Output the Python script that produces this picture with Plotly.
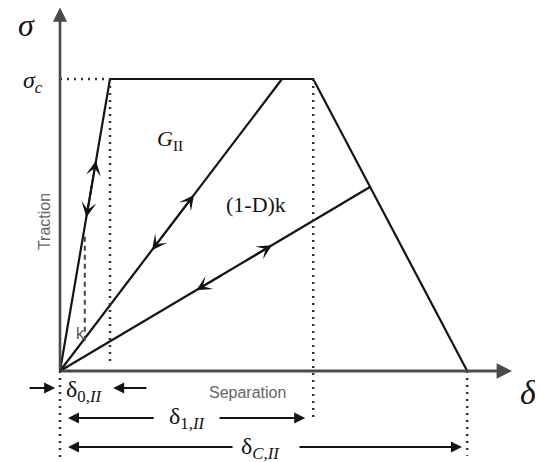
import plotly.graph_objects as go

# traction-separation law (x: separation units, y: traction / sigma_c)
env_x = [0, 1.25, 6.33, 10.18]
env_y = [0, 1.0, 1.0, 0]
mid_x = [0, 5.55]
mid_y = [0, 1.0]
low_x = [0, 7.75]
low_y = [0, 0.63]
k_dash_x = [0.62, 0.62]
k_dash_y = [0.46, 0.09]

# arrows along the loading/unloading paths: (tip_x, tip_y, tail_x, tail_y)
path_arrows = [
    (0.90, 0.72, 0.75, 0.60),
    (0.66, 0.527, 0.81, 0.647),
    (3.35, 0.603, 2.80, 0.504),
    (2.30, 0.414, 2.85, 0.513),
    (5.30, 0.431, 4.60, 0.374),
    (3.41, 0.277, 4.10, 0.333),
]

# dimension arrows below the axis: (tip_x, tail_x, y)
dim_arrows = [
    (-0.12, -0.80, -0.058),
    (1.33, 2.20, -0.058),
    (0.20, 2.38, -0.161),
    (6.13, 3.95, -0.161),
    (0.20, 4.35, -0.26),
    (10.05, 5.95, -0.26),
]

SERIF = "Liberation Serif"
SANS = "Liberation Sans"
INK = "#141414"
AXIS = "#4a4a4a"

fig = go.Figure()

line = dict(color=INK, width=2.2)
dot = dict(color="#333333", width=2.5, dash="2px,5px")

fig.add_scatter(x=env_x, y=env_y, mode="lines", line=line)
fig.add_scatter(x=mid_x, y=mid_y, mode="lines", line=line)
fig.add_scatter(x=low_x, y=low_y, mode="lines", line=line)
fig.add_scatter(x=k_dash_x, y=k_dash_y, mode="lines",
                line=dict(color="#444444", width=2, dash="5px,4px"))

# dotted guide lines
fig.add_scatter(x=[0, env_x[1]], y=[1.0, 1.0], mode="lines", line=dot)
fig.add_scatter(x=[env_x[1], env_x[1]], y=[1.0, 0.02], mode="lines", line=dot)
fig.add_scatter(x=[env_x[2], env_x[2]], y=[1.0, -0.175], mode="lines", line=dot)
fig.add_scatter(x=[env_x[3], env_x[3]], y=[0, -0.29], mode="lines", line=dot)
fig.add_scatter(x=[0, 0], y=[0, -0.32], mode="lines", line=dot)

anns = []
# axes with arrowheads
anns.append(dict(x=0, y=1.245, ax=0, ay=0, xref="x", yref="y", axref="x", ayref="y",
                 showarrow=True, arrowhead=2, arrowsize=1.1, arrowwidth=2.6, arrowcolor=AXIS, text=""))
anns.append(dict(x=11.3, y=0, ax=0, ay=0, xref="x", yref="y", axref="x", ayref="y",
                 showarrow=True, arrowhead=2, arrowsize=1.1, arrowwidth=2.8, arrowcolor=AXIS, text=""))

for tx, ty, sx, sy in path_arrows:
    anns.append(dict(x=tx, y=ty, ax=sx, ay=sy, xref="x", yref="y", axref="x", ayref="y",
                     showarrow=True, arrowhead=3, arrowsize=1.4, arrowwidth=1.8, arrowcolor=INK, text=""))

for tx, sx, yy in dim_arrows:
    anns.append(dict(x=tx, y=yy, ax=sx, ay=yy, xref="x", yref="y", axref="x", ayref="y",
                     showarrow=True, arrowhead=2, arrowsize=1.1, arrowwidth=2, arrowcolor=INK, text=""))


def label(x, y, text, size, family=SERIF, color=INK, angle=0, xanchor="center"):
    anns.append(dict(x=x, y=y, xref="x", yref="y", text=text, showarrow=False, textangle=angle,
                     xanchor=xanchor, font=dict(family=family, size=size, color=color)))


label(-0.85, 1.185, "<i>σ</i>", 32)
label(-0.68, 0.99, "<i>σ</i><sub><i>c</i></sub>", 24)
label(-0.40, 0.51, "Traction", 16, family=SANS, color="#666666", angle=-90)
label(0.50, 0.13, "k", 16, family=SANS, color="#555555")
label(2.75, 0.79, "<i>G</i><sub>II</sub>", 22)
label(4.9, 0.57, "(1-D)k", 22)
label(4.68, -0.072, "Separation", 16, family=SANS, color="#666666")
label(11.72, -0.072, "<i>δ</i>", 34)
label(0.1, -0.07, "δ<sub>0,<i>II</i></sub>", 24, xanchor="left")
label(3.17, -0.162, "δ<sub>1,<i>II</i></sub>", 24)
label(5.0, -0.262, "δ<sub><i>C</i>,<i>II</i></sub>", 24)

# page body has an 8px margin, so the ranges are shifted to keep the drawing in place
fig.update_layout(
    width=543, height=462,
    margin=dict(l=0, r=0, t=0, b=0),
    paper_bgcolor="white", plot_bgcolor="white",
    showlegend=False,
    annotations=anns,
    xaxis=dict(range=[-1.3, 12.275], visible=False, fixedrange=True),
    yaxis=dict(range=[-0.339, 1.2432], visible=False, fixedrange=True),
)

fig.write_html("out.html")
